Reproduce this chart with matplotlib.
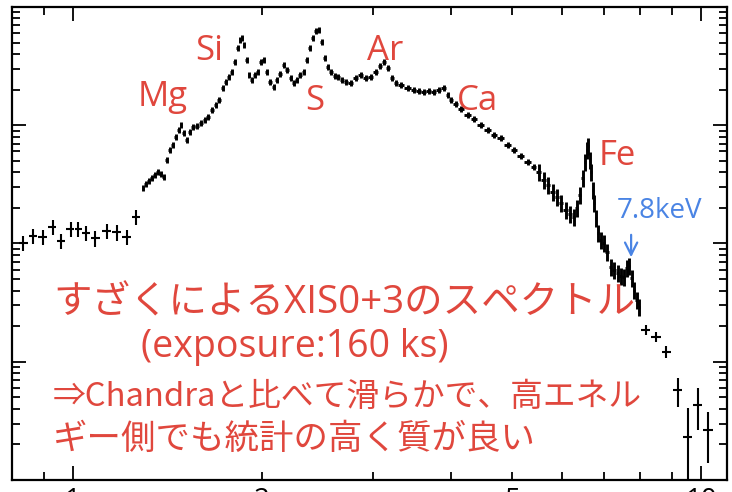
import matplotlib
matplotlib.use("Agg")
import matplotlib.pyplot as plt
import matplotlib.ticker as ticker
import numpy as np

# low energy bins (keV, counts/s/keV)
soft_E = [0.833, 0.864, 0.896, 0.929, 0.957, 0.993, 1.019, 1.049, 1.084, 1.133, 1.175, 1.219, 1.26]
soft_cts = [0.0101, 0.01156, 0.01135, 0.0138, 0.0105, 0.0133, 0.0133, 0.0123, 0.0111, 0.01277,
            0.0125, 0.0114, 0.01675]
soft_err = [0.0015, 0.0017, 0.0017, 0.0021, 0.0016, 0.002, 0.002, 0.0018, 0.0017, 0.0019,
            0.0019, 0.0017, 0.0025]

# main spectrum
main_E = [1.293, 1.307, 1.321, 1.336, 1.351, 1.366, 1.381, 1.396, 1.412, 1.427, 1.443, 1.459,
          1.475, 1.486, 1.502, 1.519, 1.536, 1.553, 1.576, 1.599, 1.623, 1.640, 1.665, 1.689,
          1.708, 1.733, 1.752, 1.772, 1.791, 1.811, 1.831, 1.845, 1.858, 1.872, 1.893, 1.907,
          1.928, 1.949, 1.971, 1.992, 2.014, 2.037, 2.059, 2.090, 2.113, 2.136, 2.168, 2.192,
          2.224, 2.249, 2.273, 2.299, 2.333, 2.358, 2.385, 2.411, 2.438, 2.464, 2.492, 2.519,
          2.547, 2.575, 2.613, 2.642, 2.681, 2.721, 2.771, 2.822, 2.875, 2.928, 2.982, 3.037,
          3.082, 3.128, 3.174, 3.221, 3.268, 3.329, 3.415, 3.492, 3.556, 3.622, 3.689, 3.757,
          3.827, 3.898, 3.955, 3.999, 4.073, 4.148, 4.256, 4.351, 4.464, 4.580, 4.682, 4.803,
          4.928, 5.037, 5.169, 5.303, 5.421, 5.521, 5.623, 5.706, 5.812, 5.898, 5.985, 6.096,
          6.186, 6.277, 6.347, 6.417, 6.488, 6.535, 6.583, 6.608, 6.656, 6.680, 6.730, 6.754,
          6.804, 6.854, 6.930, 7.007, 7.084, 7.189, 7.268, 7.376, 7.458, 7.539, 7.623, 7.679,
          7.764, 7.821, 7.908, 7.966]
main_cts = [0.0295, 0.0319, 0.0338, 0.0358, 0.0380, 0.0402, 0.0387, 0.0365, 0.0508, 0.0618,
            0.0681, 0.0796, 0.0912, 0.1005, 0.0860, 0.0750, 0.0877, 0.0967, 0.0986, 0.1045,
            0.111, 0.117, 0.135, 0.148, 0.164, 0.207, 0.232, 0.256, 0.282, 0.343, 0.450, 0.526,
            0.547, 0.477, 0.356, 0.266, 0.241, 0.266, 0.282, 0.343, 0.356, 0.282, 0.232, 0.211,
            0.241, 0.271, 0.323, 0.293, 0.251, 0.228, 0.241, 0.266, 0.282, 0.356, 0.450, 0.547,
            0.627, 0.639, 0.506, 0.370, 0.311, 0.282, 0.261, 0.256, 0.241, 0.232, 0.228, 0.251,
            0.266, 0.251, 0.256, 0.282, 0.317, 0.343, 0.305, 0.251, 0.228, 0.219, 0.207, 0.199,
            0.195, 0.191, 0.195, 0.191, 0.199, 0.207, 0.180, 0.164, 0.151, 0.137, 0.122, 0.113,
            0.1005, 0.0912, 0.0827, 0.0780, 0.0681, 0.0618, 0.0550, 0.0489, 0.0444, 0.0402,
            0.0344, 0.0312, 0.0273, 0.0247, 0.0220, 0.0192, 0.0178, 0.0168, 0.0200, 0.0257,
            0.0358, 0.0489, 0.0618, 0.0667, 0.0508, 0.0402, 0.0283, 0.0220, 0.0164, 0.01227,
            0.0107, 0.0101, 0.00847, 0.00633, 0.00597, 0.00563, 0.00531, 0.00521, 0.00621,
            0.00645, 0.00511, 0.00404, 0.00333, 0.00290]
main_rel_err = 0.06
fe_rel_err = 0.16
fe_start = 5.5

# high energy bins
hard_E = [8.17, 8.48, 8.80, 9.19, 9.53, 9.89, 10.26]
hard_cts = [0.00186, 0.00162, 0.00121, 0.000577, 0.000231, 0.000431, 0.000265]
hard_err_lo = [0.00018, 0.00015, 0.00014, 0.000163, 0.000229, 0.000166, 0.000126]
hard_err_hi = [0.00019, 0.00017, 0.00016, 0.000152, 0.000175, 0.00017, 0.000111]

lines = ["Mg", "Si", "S", "Ar", "Ca", "Fe"]
line_pos = [(138, 106), (195, 60), (305, 110), (367, 60), (457, 110), (599, 165)]

red = "#e0473d"
blue = "#4a84e4"
latin_first = ["Open Sans", "Noto Sans CJK JP"]
cjk_first = ["Noto Sans CJK JP", "Open Sans"]
plt.rcParams["font.family"] = latin_first

W, H = 732, 492


def fpos(px, py):
    return px / W, 1 - py / H


def bin_halfwidths(E, frac):
    E = np.asarray(E)
    logE = np.log10(E)
    d = np.diff(logE)
    lo = np.concatenate([[d[0]], d]) / 2 * frac
    hi = np.concatenate([d, [d[-1]]]) / 2 * frac
    return [E - 10 ** (logE - lo), 10 ** (logE + hi) - E]


fig = plt.figure(figsize=(W / 100, H / 100), dpi=100)
ax = fig.add_axes([12 / W, 12 / H, 715 / W, 473 / H])

mE = np.array(main_E)
mC = np.array(main_cts)
rel = np.where(mE < fe_start, main_rel_err, fe_rel_err)

ax.errorbar(soft_E, soft_cts, xerr=bin_halfwidths(soft_E, 0.9), yerr=soft_err,
            fmt="none", ecolor="black", elinewidth=1.5)
ax.errorbar(mE, mC, xerr=bin_halfwidths(mE, 1.0), yerr=mC * rel,
            fmt="none", ecolor="black", elinewidth=2.1)
ax.errorbar(hard_E, hard_cts, xerr=bin_halfwidths(hard_E, 0.9),
            yerr=[hard_err_lo, hard_err_hi], fmt="none", ecolor="black", elinewidth=1.5)

ax.set_xscale("log")
ax.set_yscale("log")
ax.set_xlim(0.8, 11)
ax.set_ylim(1e-4, 1)

ax.xaxis.set_major_locator(ticker.LogLocator(base=10))
ax.xaxis.set_minor_locator(ticker.LogLocator(base=10, subs=np.arange(2, 10)))
ax.xaxis.set_major_formatter(ticker.FuncFormatter(lambda v, p: "%g" % v))
ax.xaxis.set_minor_formatter(ticker.FuncFormatter(
    lambda v, p: "%g" % v if round(v, 3) in (2, 5) else ""))
ax.yaxis.set_major_locator(ticker.LogLocator(base=10))
ax.yaxis.set_minor_locator(ticker.LogLocator(base=10, subs=np.arange(2, 10)))

ax.tick_params(which="both", direction="in", top=True, right=True, width=1.3,
               labelleft=False, labelsize=20, pad=5)
ax.tick_params(which="major", length=10)
ax.tick_params(which="minor", length=6)
for s in ax.spines.values():
    s.set_linewidth(1.6)

for name, (px, py) in zip(lines, line_pos):
    fig.text(*fpos(px, py), name, color=red, fontsize=25, va="baseline", ha="left")

fig.text(*fpos(617, 218), "7.8keV", color=blue, fontsize=20, va="baseline", ha="left")
ax.annotate("", xy=(7.74, 0.00725), xytext=(7.74, 0.0125),
            arrowprops=dict(arrowstyle="->", color=blue, lw=1.6, mutation_scale=22))

fig.text(*fpos(53, 313), "すざくによるXIS0+3のスペクトル", color=red, fontsize=27.7,
         va="baseline", ha="left")
fig.text(*fpos(141, 357), "(exposure:160 ks)", color=red, fontsize=27,
         va="baseline", ha="left")
fig.text(*fpos(53, 406), "⇒Chandraと比べて滑らかで、高エネル", color=red, fontsize=23.6,
         va="baseline", ha="left", family=cjk_first)
fig.text(*fpos(53, 449), "ギー側でも統計の高く質が良い", color=red, fontsize=24.8,
         va="baseline", ha="left", family=cjk_first)

fig.savefig("out.png", dpi=100)
